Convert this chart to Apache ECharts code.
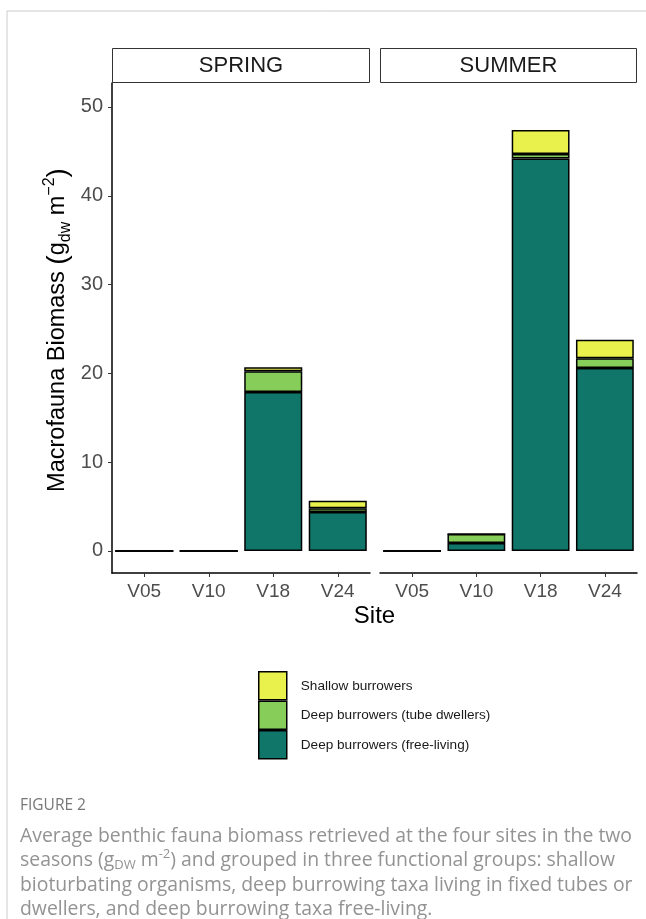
<!DOCTYPE html>
<html><head><meta charset="utf-8">
<script src="https://cdn.jsdelivr.net/npm/echarts@6/dist/echarts.min.js"></script>
<style>html,body{margin:0;padding:0;background:#fff}#c{width:646px;height:919px}</style>
</head><body><div id="c"></div>
<script>
const sites = ['V05', 'V10', 'V18', 'V24'];
const seasons = ['SPRING', 'SUMMER'];
const groupFree = 'Deep burrowers (free-living)';
const groupTube = 'Deep burrowers (tube dwellers)';
const groupShallow = 'Shallow burrowers';
const springFree = [0, 0, 17.9, 4.4];
const springTube = [0, 0, 2.35, 0.4];
const springShallow = [0, 0, 0.45, 0.87];
const summerFree = [0, 0.9, 44.2, 20.6];
const summerTube = [0, 1.0, 0.5, 1.1];
const summerShallow = [0, 0, 2.7, 2.1];
const yTicks = [0, 10, 20, 30, 40, 50];
const colFree = '#11766A', colTube = '#87CD5A', colShallow = '#E9F24C';

const chart = echarts.init(document.getElementById('c'), null, {renderer: 'canvas'});
const FONT = '"Liberation Sans", Arial, sans-serif';
const CAP = '"Open Sans", "Noto Sans", sans-serif';

function xAxis(i) {
  return {
    type: 'category', gridIndex: i, data: sites, position: 'bottom',
    axisLine: {show: true, onZero: false, lineStyle: {color: '#000', width: 1.5}},
    axisTick: {show: true, alignWithLabel: true, length: 4, lineStyle: {color: '#333', width: 1}},
    axisLabel: {color: '#4d4d4d', fontSize: 19, fontFamily: FONT, margin: 9},
    splitLine: {show: false}
  };
}
function yAxis(i, show) {
  return {
    type: 'value', gridIndex: i, min: -2.48, max: 52.7,
    axisLine: {show: show, onZero: false, lineStyle: {color: '#000', width: 1.5}},
    axisTick: {show: show, length: 4, customValues: yTicks, lineStyle: {color: '#333', width: 1}},
    axisLabel: {show: show, customValues: yTicks, color: '#4d4d4d', fontSize: 20, fontFamily: FONT, margin: 9},
    splitLine: {show: false}
  };
}
function bar(name, data, color, i, stack) {
  return {
    name: name, type: 'bar', data: data, xAxisIndex: i, yAxisIndex: i, stack: stack,
    barWidth: '90%',
    itemStyle: {color: color, borderColor: '#000', borderWidth: 1.5},
    emphasis: {disabled: true}, animation: false
  };
}

const option = {
  animation: false,
  grid: [
    {left: 112, top: 83, width: 258, height: 490, containLabel: false},
    {left: 380, top: 83, width: 257, height: 490, containLabel: false}
  ],
  xAxis: [xAxis(0), xAxis(1)],
  yAxis: [yAxis(0, true), yAxis(1, false)],
  legend: {
    orient: 'vertical', left: 258, top: 671, padding: 0, itemWidth: 28, itemHeight: 28, itemGap: 0,
    icon: 'rect',
    data: [groupShallow, groupTube, groupFree],
    itemStyle: {borderColor: '#000', borderWidth: 1.5},
    textStyle: {fontSize: 13.6, color: '#1a1a1a', fontFamily: FONT, padding: [0, 0, 0, 9]},
    selectedMode: false
  },
  series: [
    bar(groupFree, springFree, colFree, 0, 's0'),
    bar(groupTube, springTube, colTube, 0, 's0'),
    bar(groupShallow, springShallow, colShallow, 0, 's0'),
    bar(groupFree, summerFree, colFree, 1, 's1'),
    bar(groupTube, summerTube, colTube, 1, 's1'),
    bar(groupShallow, summerShallow, colShallow, 1, 's1')
  ],
  graphic: [
    {type: 'line', shape: {x1: 7, y1: 11, x2: 646, y2: 11}, style: {stroke: '#cccccc', lineWidth: 1}},
    {type: 'line', shape: {x1: 7, y1: 11, x2: 7, y2: 919}, style: {stroke: '#cccccc', lineWidth: 1}},
    {type: 'rect', shape: {x: 112.5, y: 48.5, width: 257, height: 34}, style: {fill: '#fff', stroke: '#333', lineWidth: 1}},
    {type: 'rect', shape: {x: 380.5, y: 48.5, width: 256, height: 34}, style: {fill: '#fff', stroke: '#333', lineWidth: 1}},
    {type: 'text', x: 241, y: 66, style: {text: seasons[0], fontSize: 22, fontFamily: FONT, fill: '#1a1a1a', align: 'center', verticalAlign: 'middle'}},
    {type: 'text', x: 508.5, y: 66, style: {text: seasons[1], fontSize: 22, fontFamily: FONT, fill: '#1a1a1a', align: 'center', verticalAlign: 'middle'}},
    {type: 'text', x: 374.5, y: 616, style: {text: 'Site', fontSize: 24, fontFamily: FONT, fill: '#000', align: 'center', verticalAlign: 'middle'}},
    {type: 'text', x: 58, y: 330, rotation: Math.PI / 2,
      style: {
        text: '{m|Macrofauna Biomass }{b|(}{m|g}{s|dw}{m| m}{p|−2}{b|)}',
        align: 'center', verticalAlign: 'middle',
        rich: {
          m: {fontSize: 23.5, fontFamily: FONT, fill: '#000', lineHeight: 32, verticalAlign: 'middle'},
          b: {fontSize: 28, fontFamily: FONT, fill: '#000', lineHeight: 32, verticalAlign: 'middle'},
          s: {fontSize: 16, fontFamily: FONT, fill: '#000', lineHeight: 16, verticalAlign: 'bottom'},
          p: {fontSize: 16, fontFamily: FONT, fill: '#000', lineHeight: 16, verticalAlign: 'top'}
        }
      }},
    {type: 'text', x: 20, y: 806, style: {text: 'FIGURE 2', fontSize: 15.5, fontFamily: CAP, fill: '#777777', verticalAlign: 'middle'}},
    {type: 'text', x: 20, y: 836, style: {text: 'Average benthic fauna biomass retrieved at the four sites in the two', fontSize: 19.4, fontFamily: CAP, fill: '#939393', verticalAlign: 'middle'}},
    {type: 'text', x: 20, y: 860, style: {
      text: '{t|seasons (g}{s|DW}{t| m}{p|-2}{t|) and grouped in three functional groups: shallow}',
      verticalAlign: 'middle',
      rich: {
        t: {fontSize: 19.4, fontFamily: CAP, fill: '#939393', lineHeight: 24, verticalAlign: 'middle'},
        s: {fontSize: 13, fontFamily: CAP, fill: '#939393', lineHeight: 13, verticalAlign: 'bottom'},
        p: {fontSize: 13, fontFamily: CAP, fill: '#939393', lineHeight: 13, verticalAlign: 'top'}
      }}},
    {type: 'text', x: 20, y: 885, style: {text: 'bioturbating organisms, deep burrowing taxa living in fixed tubes or', fontSize: 19.4, fontFamily: CAP, fill: '#939393', verticalAlign: 'middle'}},
    {type: 'text', x: 20, y: 909, style: {text: 'dwellers, and deep burrowing taxa free-living.', fontSize: 19.4, fontFamily: CAP, fill: '#939393', verticalAlign: 'middle'}}
  ]
};
chart.setOption(option);
</script></body></html>
